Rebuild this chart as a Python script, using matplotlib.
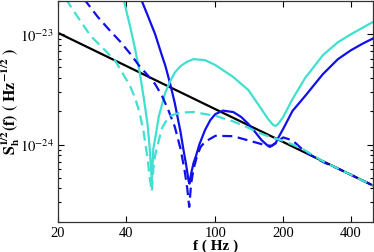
import matplotlib
matplotlib.use('Agg')
import matplotlib.pyplot as plt
from matplotlib.ticker import FixedLocator, FixedFormatter, LogLocator, NullFormatter

plt.rcParams['font.family'] = 'serif'
plt.rcParams['font.serif'] = ['Liberation Serif', 'DejaVu Serif']
plt.rcParams['mathtext.fontset'] = 'stix'

# noise curve (straight line in log-log)
f_noise = [20, 100, 200, 500]
s_noise = [1.03e-23, 2.09e-24, 1.054e-24, 4.26e-25]

# cyan solid
f_cs = [38.5, 40, 42, 44, 46, 48, 50, 51, 52.2, 53, 54, 56, 58, 60, 63, 66, 70, 75, 80,
        90, 100, 120, 140, 160, 170, 180, 185, 190, 200, 220, 250, 300, 350, 400, 450, 500]
s_cs = [2.45e-23, 1.71e-23, 1.13e-23, 7.32e-24, 4.63e-24, 2.70e-24, 1.51e-24, 9.53e-25,
        4.73e-25, 9.14e-25, 1.13e-24, 1.78e-24, 2.33e-24, 2.99e-24, 3.76e-24, 4.49e-24,
        5.14e-24, 5.64e-24, 5.95e-24, 5.82e-24, 5.25e-24, 4.09e-24, 3.12e-24, 2.10e-24,
        1.74e-24, 1.51e-24, 1.475e-24, 1.54e-24, 1.78e-24, 2.59e-24, 4.00e-24, 6.46e-24,
        8.47e-24, 1.0e-23, 1.145e-23, 1.29e-23]

# blue solid
f_bs = [46.5, 47, 50, 54, 58, 60, 63, 66, 70, 72, 74, 76, 76.7, 78, 80, 82, 85, 90, 95,
        100, 108, 120, 130, 140, 150, 160, 170, 178, 185, 190, 200, 220, 250, 300, 350,
        400, 450, 500]
s_bs = [2.35e-23, 2.03e-23, 1.485e-23, 1.0e-23, 6.33e-24, 5.14e-24, 3.53e-24, 2.38e-24,
        1.30e-24, 9.14e-25, 6.69e-25, 4.70e-25, 4.42e-25, 5.44e-25, 6.83e-25, 7.90e-25,
        1.01e-24, 1.36e-24, 1.67e-24, 1.89e-24, 2.03e-24, 1.97e-24, 1.78e-24, 1.54e-24,
        1.30e-24, 1.10e-24, 9.83e-25, 9.73e-25, 1.025e-24, 1.15e-24, 1.39e-24, 2.02e-24,
        2.75e-24, 4.35e-24, 5.95e-24, 7.17e-24, 8.21e-24, 9.15e-24]

# cyan dashed
f_cd = [21, 24, 28, 32, 36, 40, 42, 44, 46, 48, 50, 51, 52.2, 53, 54, 56, 58, 60, 63,
        70, 80, 100, 120, 140, 160, 180, 200, 220, 250, 300, 350, 400, 450, 500]
s_cd = [2.30e-23, 1.52e-23, 9.59e-24, 7.32e-24, 5.70e-24, 3.96e-24, 3.32e-24, 2.64e-24,
        1.97e-24, 1.30e-24, 7.43e-25, 5.11e-25, 3.76e-25, 6.03e-25, 7.96e-25, 1.08e-24,
        1.42e-24, 1.60e-24, 1.82e-24, 1.95e-24, 1.97e-24, 1.82e-24, 1.62e-24, 1.42e-24,
        1.25e-24, 1.15e-24, 1.08e-24, 1.0e-24, 8.86e-25, 7.05e-25, 6.06e-25, 5.31e-25,
        4.72e-25, 4.26e-25]

# blue dashed
f_bd = [26, 30, 34, 38, 42, 46, 50, 54, 58, 62, 66, 70, 73, 75, 76.5, 78, 80, 83, 86,
        90, 100, 120, 140, 160, 175, 190, 200, 220, 250, 300, 350, 400, 450, 500]
s_bd = [2.11e-23, 1.44e-23, 1.08e-23, 8.47e-24, 6.60e-24, 5.14e-24, 4.26e-24, 3.53e-24,
        2.75e-24, 2.02e-24, 1.45e-24, 9.14e-25, 5.79e-25, 3.98e-25, 2.72e-25, 4.42e-25,
        6.03e-25, 7.96e-25, 9.53e-25, 1.06e-24, 1.20e-24, 1.19e-24, 1.09e-24, 1.01e-24,
        9.53e-25, 1.08e-24, 1.16e-24, 1.09e-24, 8.59e-25, 6.95e-25, 6.06e-25, 5.31e-25,
        4.72e-25, 4.26e-25]

xticks = [20, 40, 100, 200, 400]
xticklabels = ['20', '40', '100', '200', '400']
yticks = [1e-24, 1e-23]
yticklabels = [r'$10^{-24}$', r'$10^{-23}$']

cyan = '#40E0D0'
blue = '#1010E8'

fig = plt.figure(figsize=(3.74, 2.53), dpi=100)
ax = fig.add_axes([0.155, 0.12, 0.842, 0.872])

ax.plot(f_noise, s_noise, color='black', lw=1.6)
ax.plot(f_bs, s_bs, color=blue, lw=1.6)
ax.plot(f_cs, s_cs, color=cyan, lw=1.6)
l1, = ax.plot(f_bd, s_bd, color=blue, lw=1.6)
l1.set_dashes([4.5, 2.5])
l2, = ax.plot(f_cd, s_cd, color=cyan, lw=1.6)
l2.set_dashes([4.5, 2.5])

ax.set_xscale('log')
ax.set_yscale('log')
ax.set_xlim(20, 500)
ax.set_ylim(2e-25, 2e-23)

ax.xaxis.set_major_locator(FixedLocator(xticks))
ax.xaxis.set_major_formatter(FixedFormatter(xticklabels))
ax.xaxis.set_minor_locator(FixedLocator([]))
ax.yaxis.set_major_locator(FixedLocator(yticks))
ax.yaxis.set_major_formatter(FixedFormatter(yticklabels))
ax.yaxis.set_minor_locator(LogLocator(base=10, subs=range(2, 10)))
ax.yaxis.set_minor_formatter(NullFormatter())

ax.tick_params(which='both', direction='in', top=True, right=True, labelsize=10.5, pad=3)
ax.tick_params(which='major', length=4.5, width=0.8)
ax.tick_params(which='minor', length=2.5, width=0.8)
for sp in ax.spines.values():
    sp.set_linewidth(0.9)
    sp.set_color('#333333')

ax.set_xlabel('f ( Hz )', fontsize=11, fontweight='bold', labelpad=0)
ax.set_ylabel(r'$\mathbf{S_h^{1/2}(f)\ (\ Hz^{-1/2}\ )}$', fontsize=11.5, labelpad=1)
ax.yaxis.set_label_coords(-0.115, 0.55)

fig.savefig('out.png', dpi=100)
